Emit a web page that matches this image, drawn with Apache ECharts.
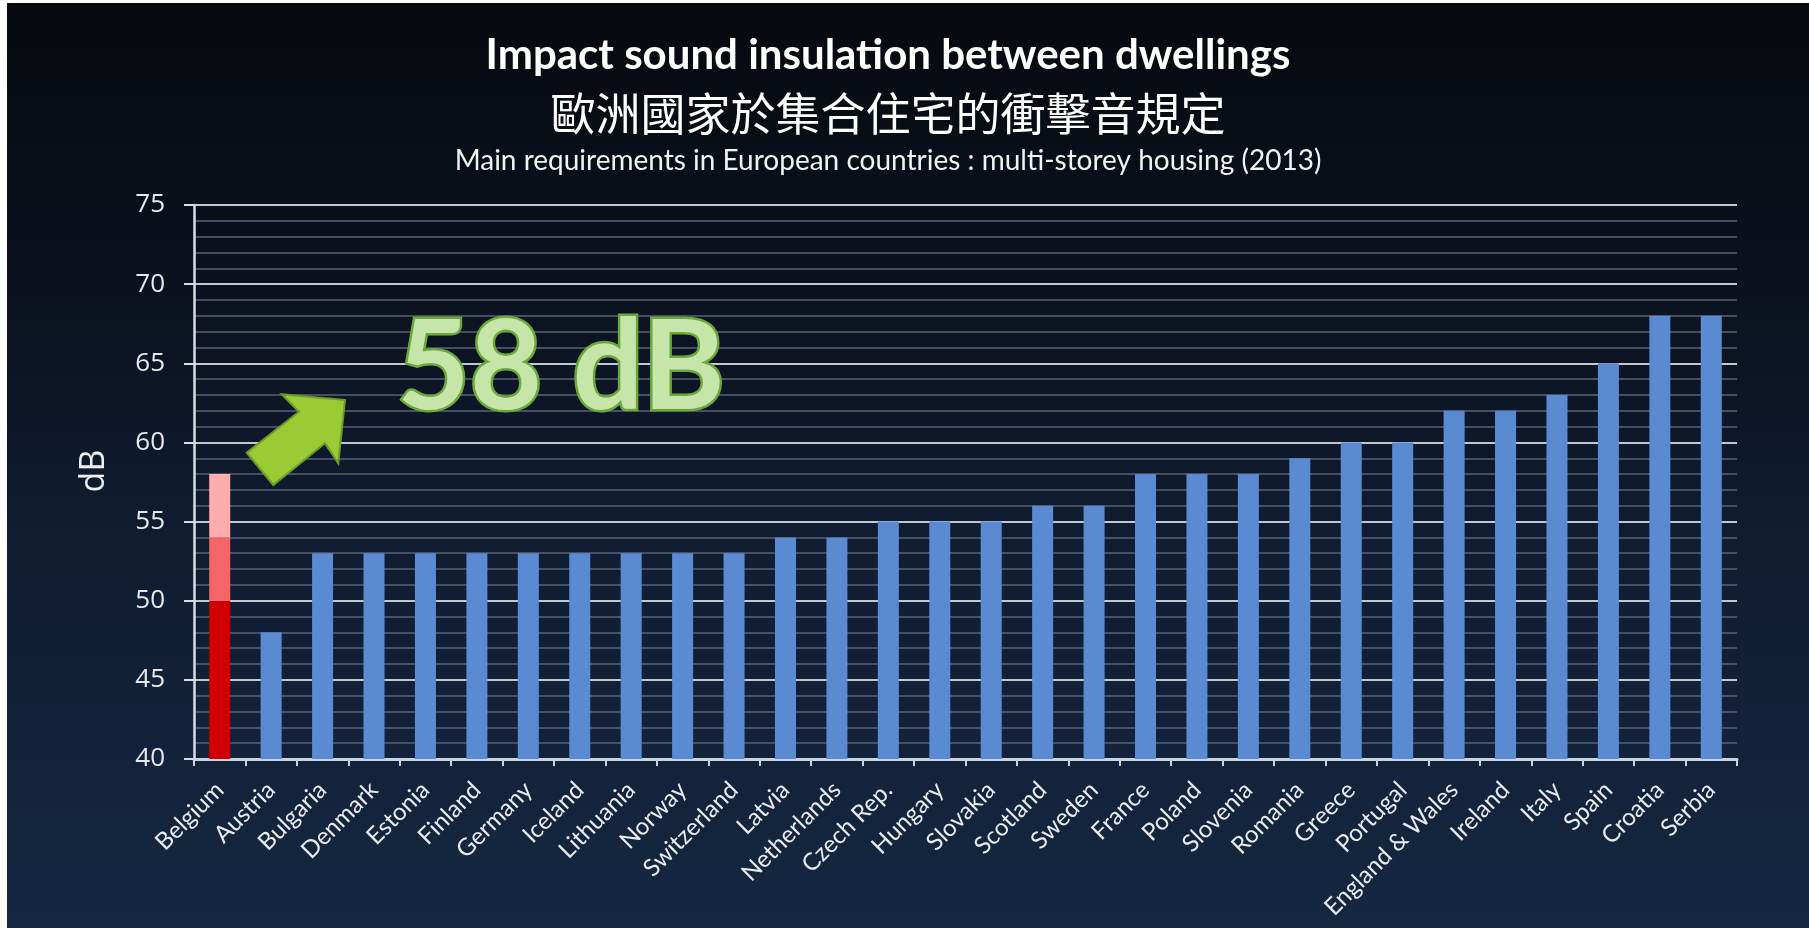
<!DOCTYPE html>
<html>
<head>
<meta charset="utf-8">
<script src="https://cdn.jsdelivr.net/npm/echarts@6/dist/echarts.min.js"></script>
<style>
  html, body { margin: 0; padding: 0; background: #ffffff; width: 1809px; height: 928px; overflow: hidden; }
  #chart { position: absolute; left: 7px; top: 3px; width: 1802px; height: 925px; }
</style>
</head>
<body>
<div id="chart"></div>
<script>
// ---- data ----
const categories = ['Belgium','Austria','Bulgaria','Denmark','Estonia','Finland','Germany','Iceland',
  'Lithuania','Norway','Switzerland','Latvia','Netherlands','Czech Rep.','Hungary','Slovakia',
  'Scotland','Sweden','France','Poland','Slovenia','Romania','Greece','Portugal','England & Wales',
  'Ireland','Italy','Spain','Croatia','Serbia'];
const requirementDb = [58,48,53,53,53,53,53,53,53,53,53,54,54,55,55,55,56,56,58,58,58,59,60,60,62,62,63,65,68,68];
const belgiumBands = [50, 54, 58];   // Belgium bar shown in three shaded bands
const yTicks = [40, 45, 50, 55, 60, 65, 70, 75];

const titleMain = 'Impact sound insulation between dwellings';
const titleZh = '歐洲國家於集合住宅的衝擊音規定';
const subTitle = 'Main requirements in European countries : multi-storey housing (2013)';
const calloutText = '58 dB';
const yAxisName = 'dB';

// ---- derived series ----
const baseSeries = requirementDb.map((v, i) => i === 0
  ? { value: belgiumBands[0], itemStyle: { color: '#d00000' } }
  : v);
const band2 = requirementDb.map((v, i) => i === 0
  ? { value: belgiumBands[1] - belgiumBands[0], itemStyle: { color: '#f66565' } } : '-');
const band3 = requirementDb.map((v, i) => i === 0
  ? { value: belgiumBands[2] - belgiumBands[1], itemStyle: { color: '#ffacac' } } : '-');

const chart = echarts.init(document.getElementById('chart'));
const option = {
  backgroundColor: {
    type: 'linear', x: 0, y: 0, x2: 0, y2: 1,
    colorStops: [
      { offset: 0, color: '#07090f' },
      { offset: 0.3, color: '#0b111e' },
      { offset: 0.6, color: '#101d33' },
      { offset: 1, color: '#152741' }
    ]
  },
  animation: false,
  grid: { left: 187, right: 72, top: 202, bottom: 169, containLabel: false },
  xAxis: {
    type: 'category',
    data: categories,
    boundaryGap: true,
    axisLine: { show: true, lineStyle: { color: '#c9d3e6', width: 3 } },
    axisTick: { show: true, alignWithLabel: false, interval: 0, length: 7, lineStyle: { color: '#c9d3e6', width: 2 } },
    axisLabel: {
      interval: 0, rotate: 45, margin: 27,
      color: '#e8ebf1', fontFamily: 'Lato', fontSize: 24
    },
    splitLine: { show: false }
  },
  yAxis: {
    type: 'value',
    min: yTicks[0], max: yTicks[yTicks.length - 1], interval: 5,
    axisLine: { show: true, lineStyle: { color: '#d8dce4', width: 2.5 } },
    axisTick: { show: true, length: 10, lineStyle: { color: '#d8dce4', width: 2 } },
    axisLabel: { color: '#e6e8ec', fontFamily: 'Open Sans', fontSize: 26, margin: 29 },
    splitLine: { show: true, lineStyle: { color: '#c3c7cf', width: 2 } },
    minorTick: { show: false, splitNumber: 5 },
    minorSplitLine: { show: true, lineStyle: { color: '#5a6274', width: 1.5 } }
  },
  series: [
    { type: 'bar', stack: 'req', barWidth: 21, data: baseSeries, itemStyle: { color: '#5a8bd2' }, z: 3 },
    { type: 'bar', stack: 'req', barWidth: 21, data: band2, z: 3 },
    { type: 'bar', stack: 'req', barWidth: 21, data: band3, z: 3 }
  ],
  graphic: [
    { type: 'text', x: 881, y: 52, style: { text: titleMain, fill: '#ffffff', font: 'bold 42px Lato', textAlign: 'center', textVerticalAlign: 'middle' } },
    { type: 'text', x: 881, y: 111, style: { text: titleZh, fill: '#ffffff', font: '45px "Noto Sans CJK TC"', textAlign: 'center', textVerticalAlign: 'middle' } },
    { type: 'text', x: 881, y: 158, style: { text: subTitle, fill: '#f2f2f2', font: '28px Lato', textAlign: 'center', textVerticalAlign: 'middle' } },
    { type: 'text', x: 87, y: 468, rotation: Math.PI / 2,
      style: { text: yAxisName, fill: '#eef0f4', font: '34px "Open Sans"', textAlign: 'center', textVerticalAlign: 'middle' } },
    { type: 'polygon', z: 10,
      shape: { points: [[338,397],[274.7,391.3],[292,408.7],[239.7,449.7],[266.3,482],[318,440.3],[331.3,460.3]] },
      style: { fill: '#9acb34', stroke: '#6e9a2a', lineWidth: 2 } },
    { type: 'text', z: 10, x: 554, y: 366,
      style: { text: calloutText, fill: '#c5e5a9', stroke: '#6aa83c', lineWidth: 5, font: 'bold 125px Lato',
               textAlign: 'center', textVerticalAlign: 'middle' } }
  ]
};
chart.setOption(option);
</script>
</body>
</html>
